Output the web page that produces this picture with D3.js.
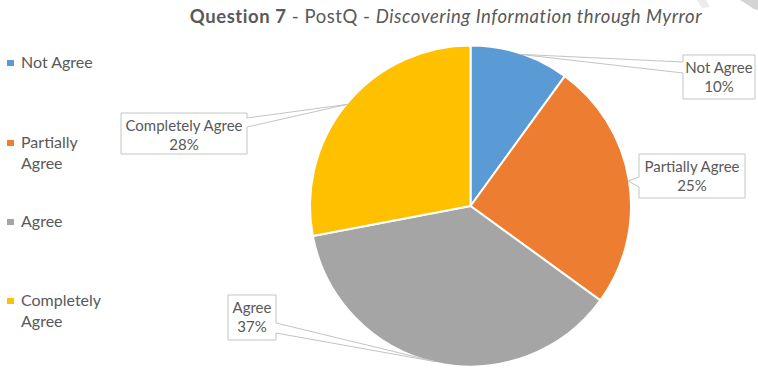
<!DOCTYPE html>
<html>
<head>
<meta charset="utf-8">
<script src="https://cdn.jsdelivr.net/npm/d3@7/dist/d3.min.js"></script>
<style>
  html, body { margin: 0; padding: 0; background: #fff; }
  svg { display: block; }
  text { font-family: Lato, "Open Sans", sans-serif; fill: #595959; }
</style>
</head>
<body>
<svg id="chart" width="758" height="369"></svg>
<script>
// Survey answers for Question 7 (share of respondents, %)
const categories = ["Not Agree", "Partially Agree", "Agree", "Completely Agree"];
const values = [10, 25, 37, 28];
const colors = ["#5B9BD5", "#ED7D31", "#A5A5A5", "#FFC000"];
const legendLines = [["Not Agree"], ["Partially", "Agree"], ["Agree"], ["Completely", "Agree"]];

const W = 758, H = 369;
const svg = d3.select("#chart");

// faint page marks in the upper right corner
svg.append("polygon").attr("points", "740,0 758,0 758,10 754,9").attr("fill", "#d4d4d4");
svg.append("polygon").attr("points", "697,0 706,0 710,7 702,8").attr("fill", "#ececec");

// Title
const title = svg.append("text").attr("x", 446).attr("y", 23)
  .attr("text-anchor", "middle").style("font-size", "18.5px").style("letter-spacing", "0.55px");
title.append("tspan").style("font-weight", "bold").text("Question 7");
title.append("tspan").text(" - PostQ - ");
title.append("tspan").style("font-style", "italic").text("Discovering Information through Myrror");

// Pie
const cx = 470.5, cy = 206, r = 160.5;
const pie = d3.pie().sort(null).value(d => d)(values);
const arc = d3.arc().innerRadius(0).outerRadius(r);
const g = svg.append("g").attr("transform", `translate(${cx},${cy})`);
g.selectAll("path").data(pie).join("path")
  .attr("d", arc)
  .attr("fill", (d, i) => colors[i])
  .attr("stroke", "#fff").attr("stroke-width", 2).attr("stroke-linejoin", "round");

// Legend
const legendY = [63, 143, 222, 301];
const leg = svg.append("g");
categories.forEach((c, i) => {
  leg.append("rect").attr("x", 7).attr("y", legendY[i] - 3).attr("width", 7).attr("height", 6)
    .attr("fill", colors[i]);
  legendLines[i].forEach((ln, j) => {
    leg.append("text").attr("x", 21).attr("y", legendY[i] + 5 + j * 21)
      .style("font-size", "16px").text(ln);
  });
});

// Data callouts: box, pointer side and pointer base
const callouts = [
  { box: [683, 55, 755, 99], side: "left", base: [62, 73] },
  { box: [639, 154, 745, 198], side: "left", base: [177, 187] },
  { box: [228, 295, 276, 340], side: "right", base: [323, 333] },
  { box: [121, 113, 247, 154], side: "right", base: [118, 127] }
];

const cg = svg.append("g");
pie.forEach((d, i) => {
  const co = callouts[i];
  const mid = (d.startAngle + d.endAngle) / 2;
  const tx = cx + (r - 1) * Math.sin(mid), ty = cy - (r - 1) * Math.cos(mid);
  const [x0, y0, x1, y1] = co.box;
  const [a, b] = co.base;
  let p;
  if (co.side === "left") {
    p = `M${x0},${y0}L${x1},${y0}L${x1},${y1}L${x0},${y1}L${x0},${b}L${tx},${ty}L${x0},${a}Z`;
  } else {
    p = `M${x0},${y0}L${x1},${y0}L${x1},${a}L${tx},${ty}L${x1},${b}L${x1},${y1}L${x0},${y1}Z`;
  }
  cg.append("path").attr("d", p).attr("fill", "#fff")
    .attr("stroke", "#c4c4c4").attr("stroke-width", 1).attr("stroke-linejoin", "miter");
  const mx = (x0 + x1) / 2;
  cg.append("text").attr("x", mx).attr("y", y0 + 18).attr("text-anchor", "middle")
    .style("font-size", "15px").text(categories[i]);
  cg.append("text").attr("x", mx).attr("y", y0 + 37).attr("text-anchor", "middle")
    .style("font-size", "15px").text(values[i] + "%");
});
</script>
</body>
</html>
